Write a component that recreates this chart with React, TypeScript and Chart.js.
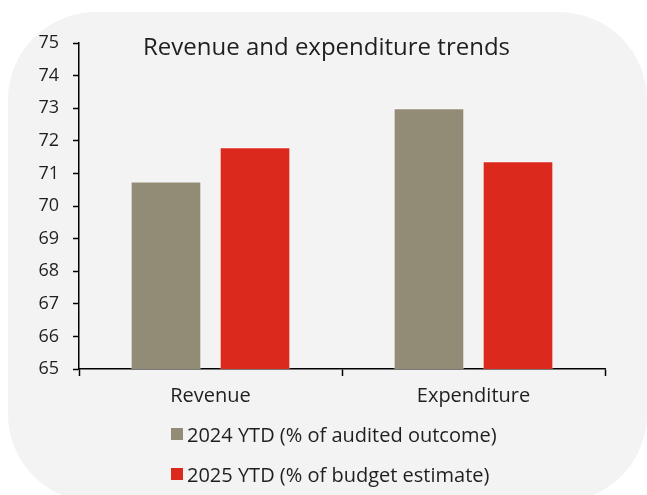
import React, { useEffect, useRef } from "react";
import { Chart, registerables } from "chart.js";

Chart.register(...registerables);

const categories = ["Revenue", "Expenditure"];
const series2024 = [70.75, 73.0];
const series2025 = [71.8, 71.37];
const seriesLabels = ["2024 YTD (% of audited outcome)", "2025 YTD (% of budget estimate)"];
const seriesColors = ["#928b75", "#dc291e"];
const chartTitle = "Revenue and expenditure trends";
const yMin = 65;
const yMax = 75;

const FONT = "'Open Sans', Lato, sans-serif";
const TEXT = "#1f1f1f";

export default function App() {
  const ref = useRef<HTMLCanvasElement | null>(null);

  useEffect(() => {
    if (!ref.current) return;
    const chart = new Chart(ref.current, {
      type: "bar",
      data: {
        labels: categories,
        datasets: [
          {
            label: seriesLabels[0],
            data: series2024,
            backgroundColor: seriesColors[0],
            borderColor: "rgba(255,255,255,0.45)",
            borderWidth: 1,
            categoryPercentage: 0.677,
            barPercentage: 0.794,
          },
          {
            label: seriesLabels[1],
            data: series2025,
            backgroundColor: seriesColors[1],
            borderColor: "rgba(255,255,255,0.45)",
            borderWidth: 1,
            categoryPercentage: 0.677,
            barPercentage: 0.794,
          },
        ],
      },
      options: {
        responsive: false,
        animation: false,
        layout: { padding: { top: 43, right: 42, left: 0, bottom: 0 } },
        plugins: {
          legend: { display: false },
          title: { display: false },
          tooltip: { enabled: false },
        },
        scales: {
          x: {
            grid: {
              display: true,
              offset: true,
              drawOnChartArea: false,
              drawTicks: true,
              tickLength: 7,
              tickColor: "#000",
              tickWidth: 1.5,
            },
            border: { display: true, color: "#000", width: 1.5 },
            ticks: {
              color: TEXT,
              font: { family: FONT, size: 20 },
              padding: 8,
            },
            afterFit: (scale: any) => {
              scale.height = 126;
            },
          },
          y: {
            min: yMin,
            max: yMax,
            grid: {
              display: true,
              drawOnChartArea: false,
              drawTicks: true,
              tickLength: 6,
              tickColor: "#000",
              tickWidth: 1.5,
            },
            border: { display: true, color: "#000", width: 1.5 },
            ticks: {
              stepSize: 1,
              color: TEXT,
              font: { family: FONT, size: 18 },
              padding: 14,
            },
            afterFit: (scale: any) => {
              scale.width = 79;
            },
          },
        },
      },
    });
    return () => chart.destroy();
  }, []);

  return (
    <div
      style={{
        position: "fixed",
        left: 0,
        top: 0,
        width: 647,
        height: 495,
        overflow: "hidden",
        background: "#ffffff",
        fontFamily: FONT,
        color: TEXT,
      }}
    >
      <div
        style={{
          position: "absolute",
          left: 8,
          top: 12,
          width: 639,
          height: 490,
          borderRadius: 88,
          background: "#f3f3f3",
        }}
      />
      <canvas
        ref={ref}
        width={647}
        height={495}
        style={{ position: "absolute", left: 0, top: 0, width: 647, height: 495 }}
      />
      <div
        style={{
          position: "absolute",
          left: 143,
          top: 31,
          fontSize: 24,
          lineHeight: "30px",
          whiteSpace: "nowrap",
        }}
      >
        {chartTitle}
      </div>
      {seriesLabels.map((lab, i) => (
        <div
          key={lab}
          style={{
            position: "absolute",
            left: 171,
            top: 423 + i * 40,
            height: 22,
            display: "flex",
            alignItems: "center",
            fontSize: 20,
            whiteSpace: "nowrap",
          }}
        >
          <span
            style={{
              display: "inline-block",
              width: 12,
              height: 12,
              background: seriesColors[i],
              marginRight: 4,
            }}
          />
          <span>{lab}</span>
        </div>
      ))}
    </div>
  );
}
